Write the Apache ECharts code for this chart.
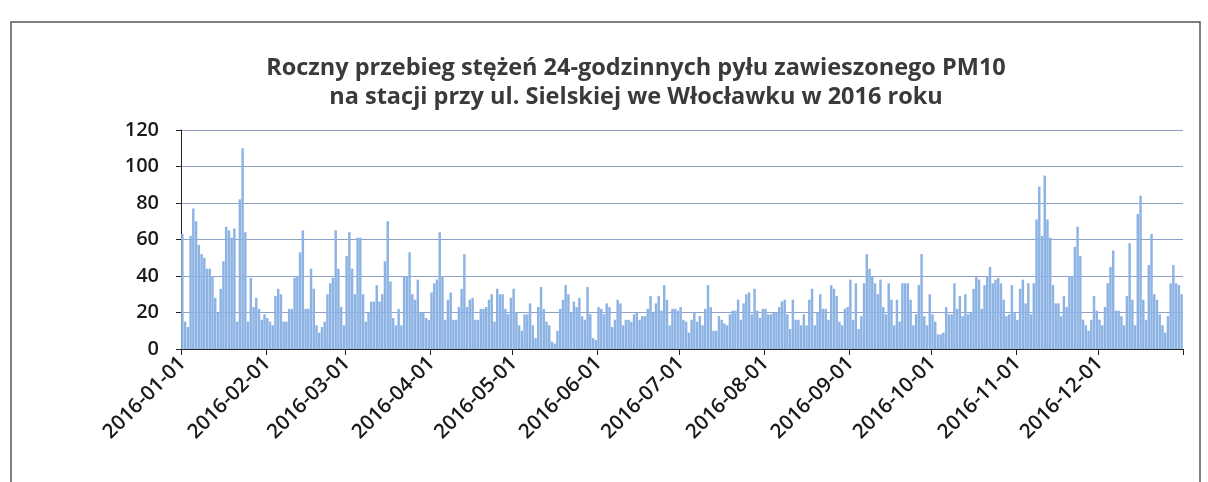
<!DOCTYPE html>
<html>
<head>
<meta charset="utf-8">
<script src="https://cdn.jsdelivr.net/npm/echarts@6/dist/echarts.min.js"></script>
<style>
  html, body { margin: 0; padding: 0; background: #fff; }
  #chart { width: 1208px; height: 482px; }
</style>
</head>
<body>
<div id="chart"></div>
<script>
// stężenia 24h PM10 (µg/m3)
var jan = [63, 15, 12, 62, 77, 70, 57, 52, 50, 44, 44, 40, 28, 20, 33, 48, 67, 65, 61, 66, 15, 82, 110, 64, 15, 39, 23, 28, 22, 16, 19];
var feb = [17, 15, 13, 29, 33, 30, 15, 15, 22, 22, 39, 40, 53, 65, 22, 22, 44, 33, 13, 9, 12, 15, 30, 36, 39, 65, 44, 23, 13];
var mar = [51, 64, 44, 30, 61, 61, 30, 15, 20, 26, 26, 35, 26, 30, 48, 70, 37, 17, 13, 22, 13, 40, 40, 53, 30, 27, 38, 20, 20, 17, 16];
var apr = [31, 36, 38, 64, 40, 16, 27, 31, 16, 16, 23, 33, 52, 23, 27, 28, 16, 16, 22, 22, 23, 27, 30, 15, 33, 30, 30, 22, 19, 28];
var may = [33, 20, 13, 10, 19, 19, 25, 13, 6, 23, 34, 22, 15, 13, 4, 3, 10, 22, 27, 35, 30, 20, 26, 23, 28, 18, 16, 34, 19, 6, 5];
var jun = [23, 22, 19, 25, 23, 12, 16, 27, 25, 13, 16, 16, 15, 19, 20, 16, 18, 18, 22, 29, 20, 25, 29, 21, 35, 27, 13, 22, 22, 21];
var jul = [23, 16, 15, 9, 16, 20, 15, 18, 13, 22, 35, 23, 10, 10, 18, 16, 14, 13, 19, 21, 21, 27, 16, 25, 30, 31, 19, 33, 21, 17, 22];
var aug = [22, 19, 19, 20, 20, 23, 26, 27, 19, 11, 27, 16, 16, 13, 19, 13, 27, 33, 13, 20, 30, 22, 22, 16, 35, 33, 29, 15, 13, 22, 23];
var sep = [38, 16, 36, 11, 18, 36, 52, 44, 40, 36, 30, 38, 23, 19, 36, 27, 13, 27, 15, 36, 36, 36, 27, 13, 19, 35, 52, 18, 13, 30];
var oct = [19, 15, 8, 8, 9, 23, 19, 19, 36, 22, 29, 18, 30, 19, 20, 33, 40, 38, 22, 35, 40, 45, 36, 38, 39, 36, 27, 18, 19, 35, 20];
var nov = [16, 33, 38, 25, 36, 19, 36, 71, 89, 62, 95, 71, 61, 35, 25, 25, 18, 29, 23, 40, 40, 56, 67, 51, 16, 13, 10, 16, 29, 21];
var dec = [16, 13, 23, 36, 45, 54, 21, 21, 18, 13, 29, 58, 27, 13, 74, 84, 27, 16, 46, 63, 30, 27, 19, 13, 9, 18, 36, 46, 36, 35, 30];

var values = jan.concat(feb, mar, apr, may, jun, jul, aug, sep, oct, nov, dec);

// kolejne dni 2016 roku
var days = [];
for (var i = 0; i < values.length; i++) {
    var d = new Date(Date.UTC(2016, 0, 1 + i));
    days.push(d.toISOString().slice(0, 10));
}

function isMonthStart(idx, val) {
    return val.slice(8) === '01';
}

var chart = echarts.init(document.getElementById('chart'));
var option = {
    backgroundColor: '#fff',
    animation: false,
    title: {
        text: 'Roczny przebieg stężeń 24-godzinnych pyłu zawieszonego PM10\nna stacji przy ul. Sielskiej we Włocławku w 2016 roku',
        left: 631,
        top: 49,
        textAlign: 'center',
        textStyle: {
            fontFamily: 'Open Sans',
            fontSize: 23.5,
            fontWeight: 'bold',
            color: '#3a3a3a',
            lineHeight: 29
        }
    },
    graphic: [{
        type: 'rect',
        shape: { x: 11, y: 22, width: 1189, height: 500 },
        style: { fill: null, stroke: '#555', lineWidth: 1.5 },
        silent: true
    }],
    grid: {
        left: 181,
        right: 25,
        top: 130,
        bottom: 133
    },
    xAxis: {
        type: 'category',
        data: days,
        axisLine: { lineStyle: { color: '#222', width: 1 } },
        axisTick: {
            show: true,
            interval: isMonthStart,
            length: 6,
            lineStyle: { color: '#222' }
        },
        axisLabel: {
            interval: isMonthStart,
            rotate: 45,
            margin: 11,
            fontFamily: 'Open Sans',
            fontSize: 20.5,
            fontWeight: 600,
            color: '#1a1a1a'
        }
    },
    yAxis: {
        type: 'value',
        min: 0,
        max: 120,
        interval: 20,
        axisLine: { show: true, lineStyle: { color: '#222' } },
        axisTick: { show: true, length: 5, lineStyle: { color: '#222' } },
        axisLabel: {
            margin: 22,
            fontFamily: 'Open Sans',
            fontSize: 20,
            fontWeight: 600,
            color: '#1a1a1a'
        },
        splitLine: { lineStyle: { color: '#8f9fc6', width: 1 } }
    },
    series: [{
        type: 'bar',
        data: values,
        barCategoryGap: '10%',
        itemStyle: { color: '#8cb3e3' }
    }]
};
chart.setOption(option);
</script>
</body>
</html>
